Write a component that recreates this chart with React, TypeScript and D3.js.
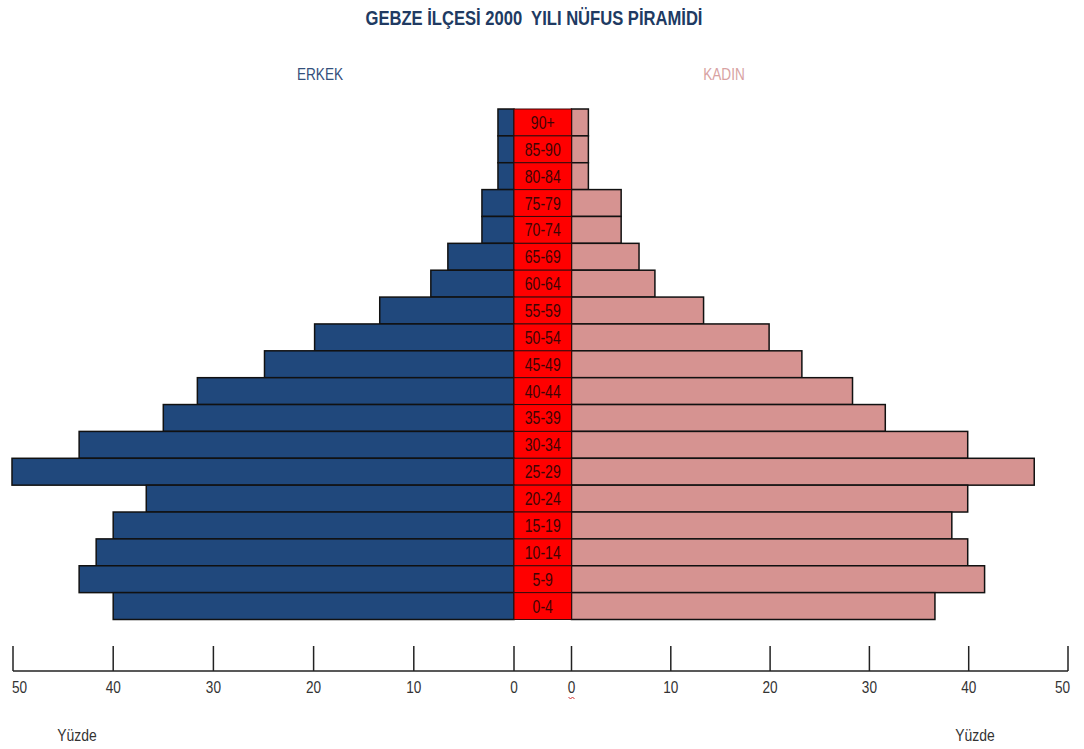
import React from "react";
import * as d3 from "d3";

// age groups, top to bottom
const ages = ["90+", "85-90", "80-84", "75-79", "70-74", "65-69", "60-64", "55-59", "50-54", "45-49",
  "40-44", "35-39", "30-34", "25-29", "20-24", "15-19", "10-14", "5-9", "0-4"];

// percentages
const erkek = [1.6, 1.6, 1.6, 3.2, 3.2, 6.6, 8.3, 13.4, 19.9, 24.9, 31.6, 35.0, 43.4, 50.1, 36.7, 40.0, 41.7, 43.4, 40.0];
const kadin = [1.7, 1.7, 1.7, 5.0, 5.0, 6.8, 8.4, 13.3, 19.9, 23.2, 28.3, 31.6, 39.9, 46.6, 39.9, 38.3, 39.9, 41.6, 36.6];

const ticks = [0, 10, 20, 30, 40, 50];

const W = 1084;
const H = 749;
const FONT = "'Liberation Sans', Arial, sans-serif";

// condensed-looking text (the original uses a narrow font)
function T(props: { x: number; y: number; anchor?: string; size: number; fill: string; sx?: number; bold?: boolean; children: any }) {
  const sx = props.sx ?? 0.8;
  return (
    <text transform={`translate(${props.x},${props.y}) scale(${sx},1)`} textAnchor={props.anchor ?? "middle"}
      fontSize={props.size} fill={props.fill} fontWeight={props.bold ? "bold" : "normal"}
      style={{ whiteSpace: "pre" }}>
      {props.children}
    </text>
  );
}

export default function App() {
  const xLeft = d3.scaleLinear().domain([0, 50]).range([514, 13]);
  const xRight = d3.scaleLinear().domain([0, 50]).range([571.5, 1068]);
  const y = d3.scaleBand().domain(ages).range([109, 619.5]).padding(0);
  const axisY = 671;
  const z = xRight(0);

  return (
    <svg width={W} height={H} style={{ position: "absolute", left: 0, top: 0, background: "#fff" }}
      fontFamily={FONT}>
      {/* title */}
      <T x={534} y={25} size={20} sx={0.83} bold fill="#203a62">GEBZE İLÇESİ 2000  YILI NÜFUS PİRAMİDİ</T>
      <T x={320} y={80} size={17} sx={0.8} fill="#34507c">ERKEK</T>
      <T x={724} y={80} size={17} sx={0.8} fill="#d8a2a2">KADIN</T>

      {/* bars */}
      {ages.map((a, i) => (
        <g key={a}>
          <rect x={xLeft(erkek[i])} y={y(a)} width={xLeft(0) - xLeft(erkek[i])} height={y.bandwidth()}
            fill="#20487c" stroke="#111" strokeWidth={1.5} />
          <rect x={xRight(0)} y={y(a)} width={xRight(kadin[i]) - xRight(0)} height={y.bandwidth()}
            fill="#d69391" stroke="#111" strokeWidth={1.5} />
          <rect x={xLeft(0)} y={y(a)} width={xRight(0) - xLeft(0)} height={y.bandwidth()}
            fill="#ff0000" stroke="#3a0a0a" strokeWidth={1} />
          <T x={(xLeft(0) + xRight(0)) / 2} y={(y(a) as number) + y.bandwidth() / 2 + 6.5}
            size={18} sx={0.78} fill="#3d0505">{a}</T>
        </g>
      ))}

      {/* axis */}
      <line x1={xLeft(50)} x2={xRight(50)} y1={axisY} y2={axisY} stroke="#222" strokeWidth={1.5} />
      {ticks.map((t) => (
        <g key={"l" + t}>
          <line x1={xLeft(t)} x2={xLeft(t)} y1={646} y2={axisY} stroke="#222" strokeWidth={1.5} />
          <T x={xLeft(t) + (t === 50 ? -1 : 0)} y={693} anchor={t === 50 ? "start" : "middle"}
            size={17} fill="#333">{t}</T>
        </g>
      ))}
      {ticks.map((t) => (
        <g key={"r" + t}>
          <line x1={xRight(t)} x2={xRight(t)} y1={646} y2={axisY} stroke="#222" strokeWidth={1.5} />
          <T x={xRight(t) + (t === 50 ? 2 : 0)} y={693} anchor={t === 50 ? "end" : "middle"}
            size={17} fill="#333">{t}</T>
        </g>
      ))}
      {/* red squiggle under the right-hand zero */}
      <path d={`M${z - 3},697 l2,2 l2,-2 l2,2`} fill="none" stroke="#d03030" strokeWidth={1} />

      <T x={77} y={741} size={17} sx={0.82} fill="#333">Yüzde</T>
      <T x={975} y={741} size={17} sx={0.82} fill="#333">Yüzde</T>
    </svg>
  );
}
